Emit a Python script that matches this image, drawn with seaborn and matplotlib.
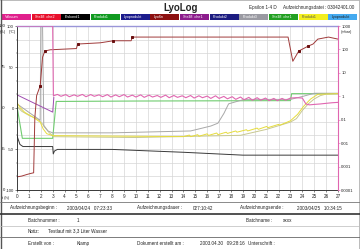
import matplotlib
matplotlib.use("Agg")
import matplotlib.pyplot as plt
import seaborn as sns
import numpy as np
from matplotlib.lines import Line2D
from matplotlib.patches import Rectangle
from matplotlib.ticker import FixedLocator, LogLocator, NullFormatter

sns.set_theme(style="white")
plt.rcParams['font.family'] = ['Liberation Sans', 'DejaVu Sans']

# ---------------- data ----------------
hours_ticks = list(range(0, 28))
temp_ticks = [-100, -50, 0, 50, 100]
pct_ticks = [0, 25, 50, 75, 100]
mbar_ticks = [1e-4, 1e-3, 1e-2, 1e-1, 1, 10, 100, 1000]
mbar_labels = ["0.0001", "0.001", "0.01", "0.1", "1", "10", "100", "1000"]

legend_names = ["Vakuum", "Stellfl. che2", "Eiskond1", "Produkt1", "Lyoprodukt", "Lyo6n",
                "Stellfl. che1", "Produkt2", "Produkt3", "Stellfl. che1", "Produkt1", "Lyoprodukt"]

# Vakuum (mbar, right log axis)
vak_h = [0.0, 3.0, 3.06, 3.4, 3.7, 4.1, 4.4, 4.8, 5.1, 5.5, 5.8, 6.2, 6.5, 6.9, 7.2, 7.6, 7.9,
         8.3, 8.6, 9.0, 9.3, 9.7, 10.0, 10.4, 10.7, 11.1, 11.4, 11.8, 12.1, 12.5, 12.8, 13.2,
         13.5, 13.9, 14.2, 14.6, 14.9, 15.3, 15.6, 16.0, 16.3, 16.7, 17.0, 17.4, 17.7, 18.1,
         18.4, 18.8, 19.1, 19.5, 19.8, 20.2, 20.5, 20.9, 21.2, 21.6, 21.9, 22.3, 22.6, 23.0,
         23.5, 24.0, 24.3, 24.6, 25.0, 25.5, 26.0, 26.5, 27.0]
vak = [1000, 1000, 1.05, 1.2, 1.0, 1.18, 0.96, 1.15, 1.0, 1.2, 0.96, 1.18, 1.0, 1.15, 0.96, 1.18,
       0.93, 1.15, 0.96, 1.18, 0.93, 1.12, 0.93, 1.15, 0.9, 1.12, 0.93, 1.08, 0.9, 1.12, 0.87, 1.08,
       0.9, 1.05, 0.87, 1.08, 0.84, 1.05, 0.87, 1.02, 0.81, 1.05, 0.81, 0.99, 0.78, 0.96, 0.74, 0.93,
       0.71, 0.9, 0.68, 0.87, 0.68, 0.84, 0.65, 0.81, 0.65, 0.81, 0.68, 0.84, 0.87, 0.84, 0.47, 0.43,
       0.45, 0.47, 0.5, 0.53, 0.55]

# temperatures (deg C, left axis)
eis_h = [0, 0.25, 0.5, 3.0, 3.05, 3.15, 3.4, 8.0, 14.0, 19.0, 27.0]
eis = [-34, -44.5, -47, -47, -56, -52.5, -50.5, -50.5, -54, -57.5, -57.5]

prod1_h = [0, 0.45, 3.0, 3.3, 10, 23.0, 23.1, 27]
prod1 = [2, -37, -37, 8, 8.5, 9, 17.5, 17.5]

lyo_h = [0, 0.4, 0.85, 1.1, 1.4, 1.5, 1.65, 1.95, 2.15, 2.35, 2.8, 5.0, 5.1, 7.0, 8.1, 9.6,
         9.7, 15, 20, 22.8, 23.2, 23.7, 24.5, 24.9, 25.3, 26.2, 27.0]
lyo = [-84, -83, -81, -80, -79, -12, 15, 27, 62, 69.5, 71, 72.5, 78, 79.5, 82, 82, 86.5,
       86.5, 86.5, 86.5, 57, 69.5, 75.5, 78, 84, 86.5, 84]

shelf_h = [0, 3.0, 3.1]
shelf = [16, -5, 13]

prod3_h = [0, 1.95, 2.0, 2.15, 2.25, 2.6, 3.0, 8.0, 14.6, 16.3, 16.9, 17.4, 17.8, 19.1, 23.0,
           24.0, 25.0, 27.0]
prod3 = [5, -15, 100, 100, -22, -28, -30.3, -30.3, -28, -22, -18.5, -6.7, 5.1, 10.5, 10.5,
         14, 18, 18]

yel_h = [0, 0.25, 0.65, 1.35, 1.95, 2.2, 2.5, 3.0, 14.0, 14.5, 14.6, 15.2, 15.3, 16.0, 16.1,
         16.8, 16.9, 17.6, 17.7, 18.4, 18.5, 19.3, 19.4, 20.2, 20.3, 21.0, 21.1, 22.0, 22.1,
         23.0, 23.6, 24.1, 24.7, 25.3, 27.0]
yel = [6.5, 0.6, -5.3, -11.2, -17.2, -25.4, -31.3, -33.7, -34.9, -33.0, -35.0, -32.5, -34.5,
       -31.5, -33.5, -30.5, -32.5, -29.5, -31.0, -28.0, -29.5, -26.5, -28.0, -24.5, -26.0,
       -22.5, -24.0, -20.0, -21.0, -15.6, -7.7, 2.0, 11.0, 16.7, 17.5]

kha_h = [0, 0.4, 1.0, 1.8, 2.3, 2.7, 3.1, 10, 18.8, 21, 23.0, 23.5, 24.0, 24.5, 25.0, 25.5, 26.0, 27.0]
kha = [2, -4, -9, -14, -22, -30, -35, -36, -33.3, -26, -17.2, -13, -3, 5, 11, 15, 17, 17.5]

# ---------------- figure ----------------
W, H = 360, 249
fig = plt.figure(figsize=(W / 100, H / 100), dpi=100)
fig.patch.set_facecolor("white")

def fx(px):
    return px / W

def fy(py):
    return 1 - py / H

L, R, T, B = 17, 338, 26, 190
ax = fig.add_axes([fx(L), fy(B), (R - L) / W, (B - T) / H])
ax.set_facecolor("white")
ax.set_xlim(0, 27)
ax.set_ylim(-100, 100)

kw = dict(ax=ax, sort=False, estimator=None, legend=False)
sns.lineplot(x=prod1_h, y=prod1, color="#70cc70", lw=0.8, **kw)
sns.lineplot(x=kha_h, y=kha, color="#c8c890", lw=0.7, **kw)
sns.lineplot(x=prod3_h, y=prod3, color="#a8a8a8", lw=0.7, **kw)
sns.lineplot(x=yel_h, y=yel, color="#e6dc3c", lw=0.7, **kw)
sns.lineplot(x=eis_h, y=eis, color="#3a3a3a", lw=0.7, **kw)
sns.lineplot(x=shelf_h, y=shelf, color="#a04cb0", lw=0.7, **kw)
sns.lineplot(x=lyo_h, y=lyo, color="#a03a3a", lw=0.7, marker="s", markersize=1.4,
             markevery=[7, 9, 12, 14, 16, 21, 22], mec="#6a1010", mfc="#6a1010", **kw)

ax.set_xlabel("")
ax.set_ylabel("")
ax.set_xticks(hours_ticks)
ax.set_xticklabels([str(v) for v in hours_ticks], fontsize=3.3)
ax.set_xticks(np.arange(0, 27.01, 1 / 6), minor=True)
ax.set_yticks(temp_ticks)
ax.set_yticklabels([str(v) for v in temp_ticks], fontsize=3.1)
ax.yaxis.set_minor_locator(FixedLocator(np.linspace(-100, 100, 13)))
ax.tick_params(axis="x", which="major", length=1.5, width=0.4, pad=1.2, direction="out", bottom=True)
ax.tick_params(axis="x", which="minor", length=0.8, width=0.3, direction="out", bottom=True)
ax.tick_params(axis="y", which="major", length=1.5, width=0.4, pad=0.8, direction="out", left=True)
ax.tick_params(axis="y", which="minor", length=0.8, width=0.3, direction="out", left=True)
ax.grid(True, which="major", axis="x", color="#d6d6d6", lw=0.5)
ax.grid(True, which="both", axis="y", color="#d6d6d6", lw=0.5)
ax.set_axisbelow(True)
for s in ["left", "bottom"]:
    ax.spines[s].set_color("#222222")
    ax.spines[s].set_linewidth(0.6)
ax.spines["top"].set_color("#9a96d8")
ax.spines["top"].set_linewidth(1.0)
ax.spines["right"].set_visible(False)

# percent column on the left
tr = ax.get_yaxis_transform()
for p, t in zip(pct_ticks, temp_ticks):
    ax.text(-0.036, t, str(p), transform=tr, ha="right", va="center", fontsize=3.1)

# pressure axis
ax2 = ax.twinx()
ax2.set_yscale("log")
ax2.set_ylim(1e-4, 1e3)
sns.lineplot(x=vak_h, y=vak, ax=ax2, sort=False, estimator=None, legend=False,
             color="#e066b0", lw=0.8)
ax2.set_ylabel("")
ax2.set_yticks(mbar_ticks)
ax2.set_yticklabels(mbar_labels, fontsize=3.1)
ax2.yaxis.set_minor_locator(LogLocator(base=10, subs=np.arange(2, 10)))
ax2.yaxis.set_minor_formatter(NullFormatter())
ax2.tick_params(axis="y", which="major", length=1.5, width=0.4, pad=0.8, color="#e066b0", right=True)
ax2.tick_params(axis="y", which="minor", length=0.8, width=0.3, color="#e066b0", right=True)
for s in ["left", "bottom", "top"]:
    ax2.spines[s].set_visible(False)
ax2.spines["right"].set_color("#e066b0")
ax2.spines["right"].set_linewidth(0.8)
ax2.set_xlim(0, 27)

# unit captions
fig.text(fx(6), fy(31.5), "(%)", ha="right", va="center", fontsize=2.8)
fig.text(fx(15.5), fy(31.5), "(°C)", ha="right", va="center", fontsize=2.8)
fig.text(fx(341), fy(31.5), "(mbar)", ha="left", va="center", fontsize=2.8)
fig.text(fx(2), fy(197.5), "t (h)", ha="left", va="center", fontsize=2.8)

# header
fig.text(fx(181), fy(8), "LyoLog", ha="center", va="center", fontsize=7, fontweight="bold")
fig.text(fx(249), fy(7.5), "Epsilon 1-4 D", ha="left", va="center", fontsize=3.3)
fig.text(fx(283), fy(7.5), "Aufzeichnungsdatei : 03042401.00", ha="left", va="center", fontsize=3.3)

# legend bar
box_colors = ["#e0208c", "#e8102c", "#000000", "#109a20", "#1c1c8c", "#8c1010",
              "#8c1c8c", "#1c1c80", "#9a9aa2", "#22a022", "#f2ee20", "#44aaf0"]
text_colors = ["white"] * 10 + ["#555555", "#222222"]
bw = 356 / 12
for i, (name, bc, tc) in enumerate(zip(legend_names, box_colors, text_colors)):
    x0 = 2 + i * bw
    fig.patches.append(Rectangle((fx(x0), fy(20)), bw / W - 0.6 / W, 6.0 / H,
                                 transform=fig.transFigure, facecolor=bc, edgecolor="none"))
    fig.text(fx(x0 + 3), fy(17), name, ha="left", va="center", fontsize=2.7, color=tc)

# frame and table lines
def hline(y, x0, x1, color, lw):
    fig.add_artist(Line2D([fx(x0), fx(x1)], [fy(y), fy(y)], color=color, lw=lw,
                          transform=fig.transFigure))

def vline(x, y0, y1, color, lw):
    fig.add_artist(Line2D([fx(x), fx(x)], [fy(y0), fy(y1)], color=color, lw=lw,
                          transform=fig.transFigure))

hline(0.5, 0, 360, "#b0b0b0", 0.6)
vline(0.6, 0, 249, "#555555", 1.0)
vline(359.4, 0, 249, "#b0b0b0", 0.6)
hline(202, 0, 360, "#777777", 0.6)
hline(213.5, 0, 360, "#333333", 1.2)
hline(225.5, 0, 360, "#bbbbbb", 0.5)
hline(237, 0, 360, "#666666", 0.6)
hline(248.5, 0, 360, "#b0b0b0", 0.6)

rows = [
    (208, [("Aufzeichnungsbeginn :", 10), ("2003/04/24   07:23:33", 67), ("Aufzeichnungsdauer :", 137),
           ("027:10:42", 193), ("Aufzeichnungsende :", 240), ("2003/04/25   10:34:15", 297)]),
    (220, [("Batchnummer :", 28), ("1", 77), ("Batchname :", 246), ("xxxx", 283)]),
    (231, [("Notiz:", 28), ("Testlauf mit 3,3 Liter Wasser", 48)]),
    (243, [("Erstellt von :", 28), ("Klamp", 77), ("Dokument erstellt am :", 137),
           ("2003.04.30   09:28:16", 200), ("Unterschrift :", 248)]),
]
for y, items in rows:
    for txt, x in items:
        fig.text(fx(x), fy(y), txt, ha="left", va="center", fontsize=3.3, color="#222222")

fig.savefig("out.png", dpi=100)
